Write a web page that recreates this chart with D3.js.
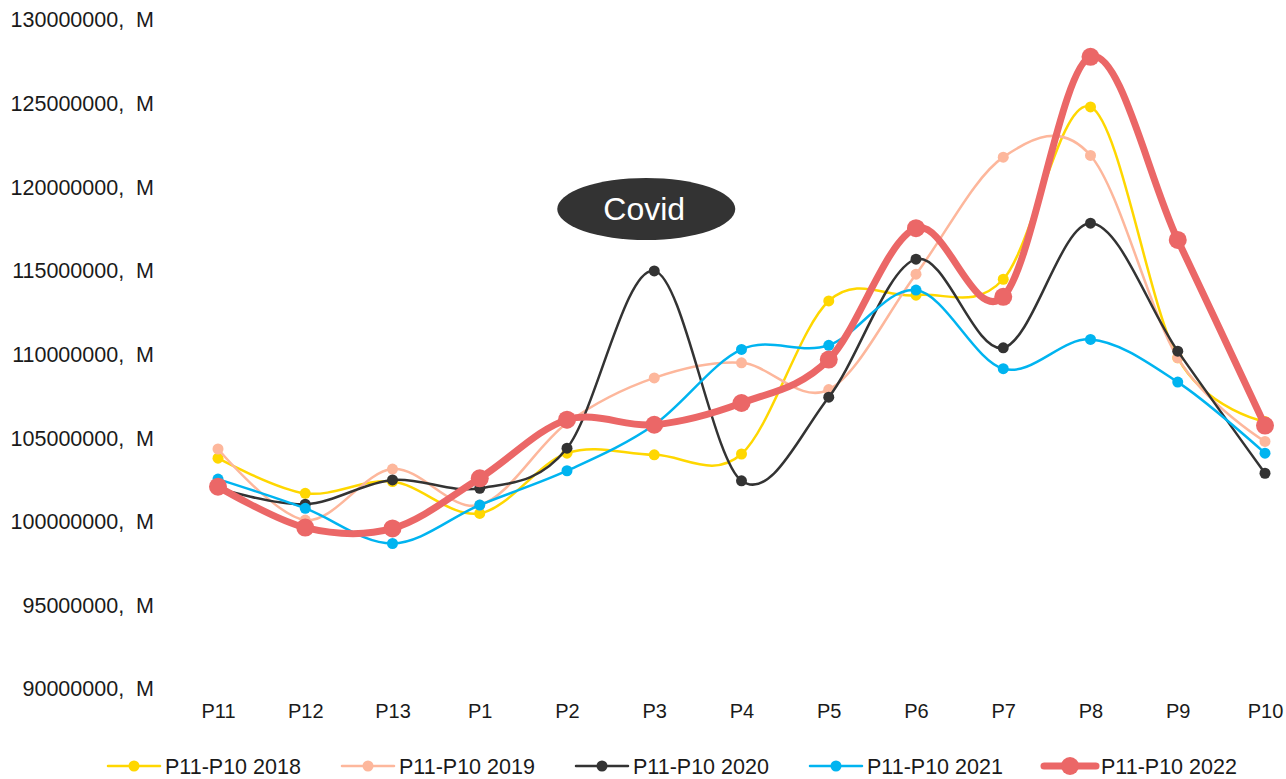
<!DOCTYPE html>
<html>
<head>
<meta charset="utf-8">
<script src="https://cdn.jsdelivr.net/npm/d3@7"></script>
<style>
  html, body { margin: 0; padding: 0; background: #fff; }
  svg { display: block; font-family: "Liberation Sans", Arial, Helvetica, sans-serif; }
  .ylab { white-space: pre; }
</style>
</head>
<body>
<svg id="chart" width="1286" height="779"></svg>
<script>
// ---- data ----
const categories = ["P11","P12","P13","P1","P2","P3","P4","P5","P6","P7","P8","P9","P10"];
const yTicks = [90000000, 95000000, 100000000, 105000000, 110000000, 115000000, 120000000, 125000000, 130000000];
const seriesNames = ["P11-P10 2018","P11-P10 2019","P11-P10 2020","P11-P10 2021","P11-P10 2022"];
const values2018 = [103800000,101700000,102400000,100500000,104100000,104000000,104050000,113200000,113550000,114500000,124800000,109800000,106000000];
const values2019 = [104350000,100100000,103150000,101000000,105900000,108600000,109500000,107900000,114800000,121800000,121900000,109800000,104800000];
const values2020 = [102000000,101050000,102500000,102000000,104400000,115000000,102450000,107450000,115700000,110400000,117850000,110200000,102900000];
const values2021 = [102550000,100800000,98700000,101000000,103050000,105800000,110300000,110550000,113850000,109150000,110900000,108350000,104100000];
const values2022 = [102100000,99650000,99600000,102600000,106100000,105800000,107100000,109700000,117550000,113450000,127800000,116850000,105750000];
const annotationText = "Covid";
const annotationAt = { category: "P3", value: 118700000 };

// ---- styles ----
const colors = ["#FFD700", "#FDB79C", "#333333", "#00B4F0", "#EB6767"];
const widths = [2.5, 2.5, 2.5, 2.5, 7];
const radii = [5.5, 5.5, 5.5, 5.5, 9];

const allValues = [values2018, values2019, values2020, values2021, values2022];

const svg = d3.select("#chart");

const x = d3.scalePoint().domain(categories).range([218, 1265]);
const y = d3.scaleLinear().domain([90000000, 130000000]).range([689, 20]);

// y axis labels
const yAxis = d3.axisLeft(y).tickValues(yTicks).tickSize(0).tickPadding(0)
  .tickFormat(d => d + ",  M");
const yg = svg.append("g").attr("transform", "translate(154,0)").call(yAxis);
yg.select(".domain").remove();
yg.selectAll("text").attr("class", "ylab").attr("font-size", 21.5)
  .attr("fill", "#1a1a1a").attr("font-family", "Liberation Sans, Arial, sans-serif");

// x axis labels
const xAxis = d3.axisBottom(x).tickSize(0).tickPadding(0);
const xg = svg.append("g").attr("transform", "translate(0,704)").call(xAxis);
xg.select(".domain").remove();
xg.selectAll("text").attr("font-size", 20).attr("fill", "#1a1a1a")
  .attr("font-family", "Liberation Sans, Arial, sans-serif");

// lines
const line = d3.line()
  .x((d, i) => x(categories[i]))
  .y(d => y(d))
  .curve(d3.curveCardinal.tension(0));

allValues.forEach((vals, si) => {
  const g = svg.append("g");
  g.append("path").datum(vals)
    .attr("d", line)
    .attr("fill", "none")
    .attr("stroke", colors[si])
    .attr("stroke-width", widths[si])
    .attr("stroke-linejoin", "round")
    .attr("stroke-linecap", "round");
  g.selectAll("circle").data(vals).join("circle")
    .attr("cx", (d, i) => x(categories[i]))
    .attr("cy", d => y(d))
    .attr("r", radii[si])
    .attr("fill", colors[si]);
});

// annotation
const ax = x(annotationAt.category) - 8;
const ay = y(annotationAt.value);
svg.append("ellipse").attr("cx", ax).attr("cy", ay).attr("rx", 89).attr("ry", 31)
  .attr("fill", "#333333");
svg.append("text").attr("x", ax - 2).attr("y", ay).attr("dy", "0.35em")
  .attr("text-anchor", "middle").attr("font-size", 32).attr("fill", "#ffffff")
  .text(annotationText);

// legend
const legend = svg.append("g").attr("transform", "translate(108,766)");
seriesNames.forEach((name, si) => {
  const g = legend.append("g").attr("transform", `translate(${si * 234},0)`);
  g.append("line").attr("x1", 0).attr("x2", 52).attr("y1", 0).attr("y2", 0)
    .attr("stroke", colors[si]).attr("stroke-width", widths[si]).attr("stroke-linecap", "round");
  g.append("circle").attr("cx", 26).attr("cy", 0).attr("r", radii[si]).attr("fill", colors[si]);
  g.append("text").attr("x", 57).attr("y", 0).attr("dy", "0.35em")
    .attr("font-size", 21.5).attr("fill", "#1a1a1a").text(name);
});
</script>
</body>
</html>
